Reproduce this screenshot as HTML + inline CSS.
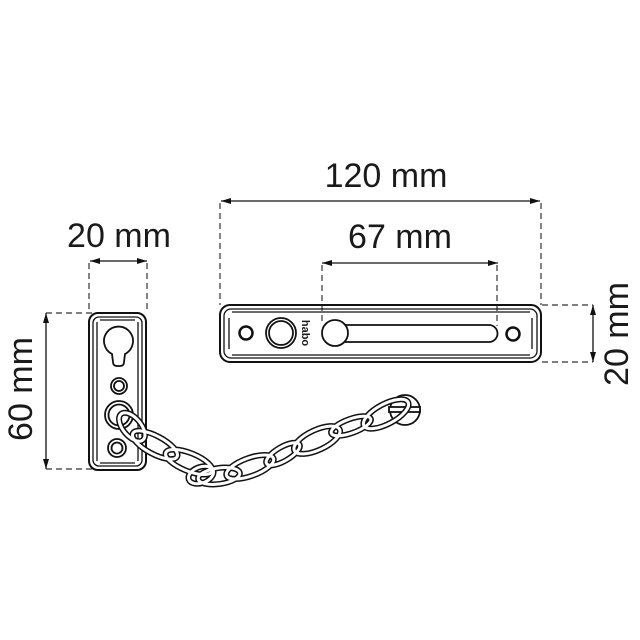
<!DOCTYPE html>
<html><head><meta charset="utf-8"><style>
html,body{margin:0;padding:0;background:#fff}
svg{display:block}
text{font-family:"Liberation Sans",sans-serif;fill:#1a1a1a}
</style></head><body>
<svg width="640" height="640" viewBox="0 0 640 640" xmlns="http://www.w3.org/2000/svg">
<defs>
<marker id="a" viewBox="0 0 10 6" refX="10" refY="3" markerWidth="10" markerHeight="6" orient="auto-start-reverse" markerUnits="userSpaceOnUse"><path d="M0,0 L10,3 L0,6 Z" fill="#111"/></marker>
</defs>
<text x="386" y="187" font-size="34" text-anchor="middle">120 mm</text>
<text x="400" y="248" font-size="34" text-anchor="middle">67 mm</text>
<text x="119" y="247" font-size="34" text-anchor="middle">20 mm</text>
<text transform="translate(32,389) rotate(-90)" font-size="34" text-anchor="middle">60 mm</text>
<text transform="translate(628,334) rotate(-90)" font-size="34" text-anchor="middle">20 mm</text>

<g stroke="#111" stroke-width="1.3" fill="none">
<line x1="221" y1="201" x2="540" y2="201" marker-start="url(#a)" marker-end="url(#a)"/>
<line x1="322" y1="263" x2="498" y2="263" marker-start="url(#a)" marker-end="url(#a)"/>
<line x1="90" y1="261" x2="147" y2="261" marker-start="url(#a)" marker-end="url(#a)"/>
<line x1="46" y1="313" x2="46" y2="469" marker-start="url(#a)" marker-end="url(#a)"/>
<line x1="593" y1="305" x2="593" y2="362" marker-start="url(#a)" marker-end="url(#a)"/>
</g>
<g stroke="#333" stroke-width="1.2" fill="none" stroke-dasharray="6,4">
<line x1="220" y1="203" x2="220" y2="305"/>
<line x1="541" y1="203" x2="541" y2="305"/>
<line x1="322" y1="265" x2="322" y2="325"/>
<line x1="497" y1="265" x2="497" y2="326"/>
<line x1="89" y1="263" x2="89" y2="313"/>
<line x1="147" y1="263" x2="147" y2="313"/>
<line x1="46" y1="313" x2="92" y2="313"/>
<line x1="46" y1="469" x2="92" y2="469"/>
<line x1="542" y1="305" x2="593" y2="305"/>
<line x1="542" y1="362" x2="593" y2="362"/>
</g>

<g stroke="#111" fill="none" stroke-width="2">
<rect x="220" y="305" width="321" height="57" rx="10"/>
<rect x="224" y="309" width="313" height="49" rx="7" stroke-width="1.3"/>
<line x1="232" y1="312" x2="530" y2="312" stroke-width="1.3"/>
<line x1="232" y1="355" x2="530" y2="355" stroke-width="1.3"/>
<line x1="229" y1="318" x2="229" y2="349" stroke-width="1.3"/>
<line x1="532" y1="318" x2="532" y2="349" stroke-width="1.3"/>
<circle cx="246" cy="333" r="6.5" stroke-width="2.5"/>
<circle cx="281" cy="333" r="15" stroke-width="1.8"/>
<circle cx="281" cy="333" r="12" stroke-width="1.8"/>
<path d="M345,325 L489,325 A8.5,8.5 0 0 1 489,342 L345,342" stroke-width="1.8"/>
<circle cx="335" cy="333" r="13" stroke-width="1.8" fill="#fff"/>
<circle cx="513" cy="334" r="6.5" stroke-width="2.5"/>
</g>
<text transform="translate(302,333) rotate(90)" font-size="11" font-weight="bold" text-anchor="middle">habo</text>

<g stroke="#111" fill="none" stroke-width="2">
<rect x="89" y="313" width="57" height="157" rx="9"/>
<rect x="93" y="317" width="49" height="149" rx="6" stroke-width="1.3"/>
<line x1="97" y1="322" x2="97" y2="461" stroke-width="1.3"/>
<line x1="138" y1="322" x2="138" y2="461" stroke-width="1.3"/>
<line x1="100" y1="320" x2="135" y2="320" stroke-width="1.3"/>
<line x1="100" y1="463" x2="135" y2="463" stroke-width="1.3"/>
<path d="M112,354 A14.5,14.5 0 1 1 125,354 L124,362 Q124,366 120,366 L117,366 Q113,366 113,362 Z" stroke-width="1.8"/>
<circle cx="119" cy="386" r="8" stroke-width="1.8"/>
<circle cx="119" cy="386" r="5" stroke-width="1.8"/>
<circle cx="119" cy="415" r="14" stroke-width="1.8"/>
<circle cx="119" cy="415" r="10.5" stroke-width="1.8"/>
<circle cx="117" cy="448" r="9" stroke-width="1.8"/>
<circle cx="117" cy="448" r="5.5" stroke-width="1.8"/>
</g>

<g stroke="#111" stroke-width="1.8" fill="#fff">
<circle cx="405" cy="410" r="15"/>
<rect x="389" y="407" width="31" height="5" fill="#fff"/>
</g>
<g fill="none">
<g id="links">
<ellipse cx="132" cy="427" rx="17" ry="9" transform="rotate(50 132 427)"/>
<ellipse cx="155" cy="445" rx="25" ry="9" transform="rotate(28 155 445)"/>
<ellipse cx="189" cy="462" rx="25" ry="9" transform="rotate(22 189 462)"/>
<ellipse cx="201" cy="475" rx="13" ry="8" transform="rotate(-20 201 475)"/>
<ellipse cx="219" cy="476" rx="21" ry="8" transform="rotate(-8 219 476)"/>
<ellipse cx="250" cy="467" rx="25" ry="9" transform="rotate(-20 250 467)"/>
<ellipse cx="283" cy="454" rx="19" ry="7" transform="rotate(-30 283 454)"/>
<ellipse cx="317" cy="440" rx="25" ry="10" transform="rotate(-25 317 440)"/>
<ellipse cx="351" cy="426" rx="21" ry="7" transform="rotate(-20 351 426)"/>
<ellipse cx="386" cy="414" rx="25" ry="10" transform="rotate(-28 386 414)"/>
</g>
</g>
<g stroke="#111" stroke-width="6" fill="none"><use href="#links"/></g>
<g stroke="#fff" stroke-width="3" fill="none"><use href="#links"/></g>
</svg>
</body></html>
